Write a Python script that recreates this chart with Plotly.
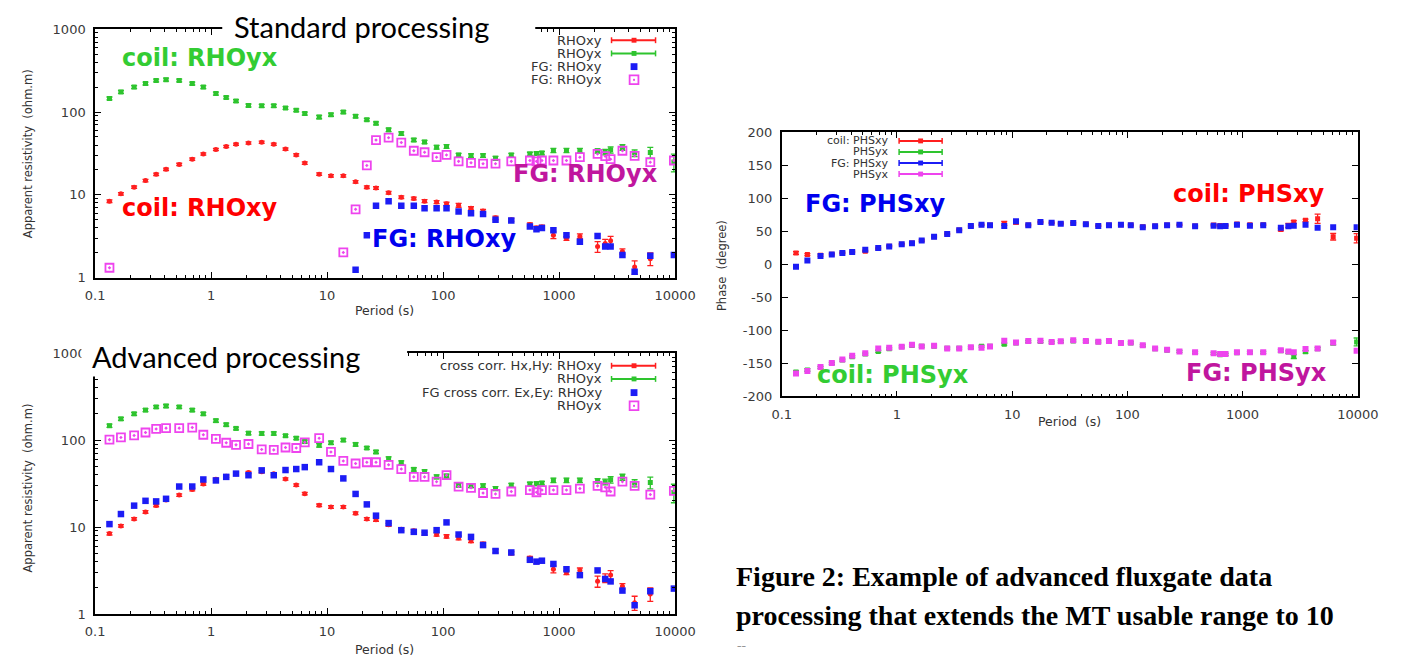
import plotly.graph_objects as go

W, H = 1416, 666

# ---------------- data ----------------
period = [0.133, 0.167, 0.217, 0.272, 0.336, 0.409, 0.531, 0.688, 0.857, 1.1,
          1.35, 1.64, 2.1, 2.73, 3.47, 4.38, 5.42, 6.42, 8.54, 10.8,
          13.8, 17.6, 22, 26.4, 33.9, 43.6, 55.9, 69.2, 87.9, 107,
          136, 174, 221, 283, 387, 560, 638, 711, 893, 1157,
          1510, 2146, 2496, 2780, 3515, 4477, 6110, 9760]

# coil apparent resistivity (used in both resistivity panels)
rho_xy_coil = [8.4, 10.3, 12.4, 14.9, 17.7, 20.4, 23.3, 27, 31.2, 35.4,
               38.4, 40.9, 42.4, 43.2, 40.9, 35.7, 30.4, 24.2, 17.8, 17,
               17, 14.4, 12.4, 12.1, 10.6, 9.4, 9.05, 8.4, 8.2, 7.8,
               7.5, 6.9, 6.4, 5.3, 5.0, 4.4, 4.0, 4.1, 3.27, 2.98,
               3.18, 2.38, 2.6, 2.8, 2.08, 1.35, 1.7, None]
rho_xy_coil_err = [0.3, 0.35, 0.4, 0.5, 0.6, 0.7, 0.8, 0.9, 1.0, 1.1,
                   1.2, 1.3, 1.3, 1.3, 1.3, 1.1, 1.0, 0.8, 0.6, 0.6,
                   0.6, 0.5, 0.45, 0.45, 0.4, 0.35, 0.35, 0.35, 0.35, 0.35,
                   0.4, 0.3, 0.3, 0.25, 0.2, 0.2, 0.2, 0.2, 0.3, 0.15,
                   0.2, 0.35, 0.3, 0.35, 0.15, 0.25, 0.3, 0]
rho_yx_coil = [146, 175, 200, 221, 240, 246, 240, 221, 200, 167,
               150, 136, 120, 119, 119, 112, 105, 96, 87, 93,
               100, 89, 81, 73, 61, 55, 46, 43.5, 37.7, 38.5,
               30.3, 29.8, 29.8, 27.7, 30.3, 31.2, 31.5, 32, 34.4, 34.4,
               34.4, 34, 33, 35, 37.4, 32, 32.5, 25]
rho_yx_coil_err = [6, 7, 8, 9, 9, 10, 9, 9, 8, 7,
                   6, 5, 5, 5, 5, 4, 4, 4, 4, 4,
                   4, 4, 3, 3, 3, 2.5, 2, 2, 2, 2,
                   1.5, 1.5, 1.5, 1.5, 1.5, 1.5, 1.5, 1.5, 2, 2,
                   2, 2, 2.5, 3, 3, 3, 5, 6]

# fluxgate, standard processing
fg_rho_xy_std = [None] * 21 + [1.25, 3.27, 7.4, 8.4, 7.4, 7.4, 6.9, 6.9, 6.9,
                               6.3, 6.0, 5.87, 5.0, 4.9, 4.17, 3.84, 4.0, 3.74, 3.27,
                               2.72, 3.2, 2.38, 2.38, 1.88, 1.18, 1.85, 1.88]
fg_rho_yx_std = [1.32] + [None] * 19 + [2.02, 6.7, 22.7, 45.9, 49, 42.8, 34.1, 32.7, 28.5, 30.4,
                                        25.4, 24.4, 23.8, 23.8, 25.4, 26, 25.4, 26, 26, 26,
                                        28.5, 31.2, 29.3, 27, 34.1, 29.6, 24.8, 26]

# fluxgate, advanced (cross-correlation) processing
fg_rho_xy_adv = [10.8, 14.1, 17.6, 20, 19.7, 21.1, 29.2, 29.2, 35.2, 34.3,
                 37.7, 41.1, 39.4, 44.8, 39.4, 45.2, 46.4, 48.8, 55.5, 46.4,
                 36.2, 24, 18.2, 13.5, 11.1, 9.2, 8.8, 8.6, 9.2, 11.3,
                 8.2, 7.7, 6.2, 5.3, 5.1, 4.2, 4.0, 4.1, 3.76, 3.27,
                 2.8, 3.17, 2.53, 2.37, 1.86, 1.26, 1.83, 1.96]
fg_rho_yx_adv = [101, 107, 113, 122, 134, 137, 137, 139, 115, 103,
                 93, 88, 90, 78, 77, 82, 81, 94, 105, 73,
                 57.5, 53.7, 55.5, 55.5, 51.9, 46.4, 37.7, 37.7, 33.2, 39.4,
                 29.2, 28.2, 24.6, 24, 25.6, 26.6, 25.1, 26.6, 26.6, 26.6,
                 27.7, 29.7, 28.6, 25.6, 33.2, 29.7, 23.6, 26.1]

# phases (degree)
phs_xy_coil = [17.2, 14.8, 14, 15.5, 17.5, 19, 20, 24, 27.5, 30.5,
               32.5, 36, 42, 46, 52, 58, 60, 59.5, 62, 64,
               59.5, 64, 63, 62, 62.5, 61, 58.5, 59.5, 60, 59.5,
               57, 58, 59.5, 60, 58, 59.5, 59, 59, 61, 60,
               60, 52.8, 59, 64.2, 66.7, 69.1, 41.9, 39.5]
phs_xy_coil_err = [2, 1.5, 1.5, 1, 1, 1, 1, 1, 1, 1,
                   1, 1, 1, 1, 1, 1, 1, 1, 3, 3,
                   1, 1, 1, 1, 1, 1, 1, 1, 1, 1,
                   1, 1, 1, 1, 1, 1, 1, 1, 1, 1,
                   1, 2, 3, 2, 2, 7, 5, 7]
phs_yx_coil = [-163, -160, -156, -150, -145, -140, -136, -132, -128, -125,
               -123, -124, -124, -127, -127, -126, -124, -124, -121, -119,
               -117, -117, -118, -117, -116, -116.5, -117.5, -117, -119, -119,
               -123, -128, -130, -132, -133.5, -135, -137, -136.5, -134, -133.5,
               -133.5, -131, -133, -139.7, -132.6, -128, -119, -117.6]
phs_yx_coil_err = [2, 2, 1.5, 1.5, 1.5, 1.5, 1.5, 1.5, 1.5, 1.5,
                   1.5, 1.5, 1.5, 1.5, 1.5, 1.5, 1.5, 1.5, 1.5, 1.5,
                   1.5, 1.5, 1.5, 1.5, 1.5, 1.5, 1.5, 1.5, 1.5, 1.5,
                   1.5, 1.5, 1.5, 1.5, 1.5, 1.5, 1.5, 1.5, 1.5, 1.5,
                   1.5, 2, 2, 3, 2, 2, 3, 6]
phs_xy_fg = [-3.5, 5.9, 12.8, 14.8, 17.2, 18.7, 22.2, 24.7, 27.1, 30.5,
             32, 36, 42, 45.9, 51.8, 58.2, 60.2, 59.2, 58.2, 65.2,
             59.2, 64.2, 63.2, 61.7, 62.7, 60.7, 58.2, 59.2, 60.2, 59.2,
             56.4, 57.9, 59.2, 60.2, 57.9, 58.7, 57.9, 58.2, 60.2, 58.7,
             59.2, 55.4, 57.9, 58.7, 60.2, 55.4, 56.4, 56.4]
phs_yx_fg = [-165.5, -161.5, -155.6, -149.6, -144.3, -138.4, -134.8, -127.4, -126.5, -125,
             -122, -124.4, -123.5, -127.4, -127.4, -125.5, -126.5, -124.4, -115.6, -118.5,
             -116.1, -115.6, -117.6, -116.6, -115.1, -116.1, -117.1, -116.1, -119.1, -118.5,
             -122.5, -127.4, -129.5, -131.9, -133.3, -134.8, -135.8, -135.8, -133.3, -133.3,
             -133.3, -130, -131.9, -133.3, -128.4, -127.4, -118.5, -131]

x_tickvals = [0.1, 1, 10, 100, 1000, 10000]
x_ticktext = ["0.1", "1", "10", "100", "1000", "10000"]
rho_tickvals = [1, 10, 100, 1000]
rho_ticktext = ["1", "10", "100", "1000"]
phs_tickvals = [-200, -150, -100, -50, 0, 50, 100, 150, 200]
phs_ticktext = ["-200", "-150", "-100", "-50", "0", "50", "100", "150", "200"]

# ---------------- styling ----------------
RED = "#ff1f1f"
GREEN = "#2ec42e"
BLUE = "#1c1cf5"
MAGENTA = "#ee44ee"
LBL_GREEN = "#33cc33"
LBL_RED = "#ff0000"
LBL_BLUE = "#0000ee"
LBL_MAG = "#c0169e"


def px(x):
    return x / W


def py(y):
    return 1 - y / H


def err(arr, color):
    return dict(type="data", array=arr, symmetric=True, width=3,
                thickness=1.3, color=color)


fig = go.Figure()


def rho_panel(xa, ya, fg_xy, fg_yx):
    fig.add_trace(go.Scatter(x=period, y=rho_xy_coil, mode="markers", xaxis=xa, yaxis=ya,
                             marker=dict(symbol="circle", size=5, color=RED),
                             error_y=err(rho_xy_coil_err, RED), showlegend=False))
    fig.add_trace(go.Scatter(x=period, y=rho_yx_coil, mode="markers", xaxis=xa, yaxis=ya,
                             marker=dict(symbol="square", size=5, color=GREEN),
                             error_y=err(rho_yx_coil_err, GREEN), showlegend=False))
    fig.add_trace(go.Scatter(x=period, y=fg_xy, mode="markers", xaxis=xa, yaxis=ya,
                             marker=dict(symbol="square", size=6.5, color=BLUE),
                             showlegend=False))
    fig.add_trace(go.Scatter(x=period, y=fg_yx, mode="markers", xaxis=xa, yaxis=ya,
                             marker=dict(symbol="square-open-dot", size=8, color=MAGENTA,
                                         line=dict(width=1.8, color=MAGENTA)),
                             showlegend=False))


rho_panel("x", "y", fg_rho_xy_std, fg_rho_yx_std)
rho_panel("x2", "y2", fg_rho_xy_adv, fg_rho_yx_adv)

# phase panel
fig.add_trace(go.Scatter(x=period, y=phs_xy_coil, mode="markers", xaxis="x3", yaxis="y3",
                         marker=dict(symbol="square", size=5, color=RED),
                         error_y=err(phs_xy_coil_err, RED), showlegend=False))
fig.add_trace(go.Scatter(x=period, y=phs_yx_coil, mode="markers", xaxis="x3", yaxis="y3",
                         marker=dict(symbol="square", size=5, color=GREEN),
                         error_y=err(phs_yx_coil_err, GREEN), showlegend=False))
fig.add_trace(go.Scatter(x=period, y=phs_xy_fg, mode="markers", xaxis="x3", yaxis="y3",
                         marker=dict(symbol="square", size=6, color=BLUE),
                         showlegend=False))
fig.add_trace(go.Scatter(x=period, y=phs_yx_fg, mode="markers", xaxis="x3", yaxis="y3",
                         marker=dict(symbol="square", size=6, color=MAGENTA),
                         showlegend=False))

# ---------------- axes ----------------
tickfont = dict(family="DejaVu Sans", size=13, color="#3a3a3a")
log_minor_x = [m * 10 ** k for k in range(-1, 4) for m in range(2, 10)]
log_minor_y = [m * 10 ** k for k in range(0, 3) for m in range(2, 10)]


def base_axis(**kw):
    d = dict(showline=True, mirror="allticks", linecolor="black", linewidth=1.6,
             ticks="inside", ticklen=6, tickwidth=1, tickcolor="black",
             showgrid=False, zeroline=False, tickfont=tickfont,
             ticklabelstandoff=5, fixedrange=True)
    d.update(kw)
    return d


def xlog(domain, anchor):
    return base_axis(domain=domain, anchor=anchor, type="log", range=[-1, 4],
                     tickmode="array", tickvals=x_tickvals, ticktext=x_ticktext,
                     minor=dict(tickmode="array", tickvals=log_minor_x, ticks="inside",
                                ticklen=3, tickcolor="black", showgrid=False))


def ylog(domain, anchor):
    return base_axis(domain=domain, anchor=anchor, type="log", range=[0, 3],
                     tickmode="array", tickvals=rho_tickvals, ticktext=rho_ticktext,
                     minor=dict(tickmode="array", tickvals=log_minor_y, ticks="inside",
                                ticklen=3, tickcolor="black", showgrid=False))


top_x = [px(87), px(680)]
top_y = [py(277), py(22.7)]
bot_x = [px(87), px(680)]
bot_y = [py(621), py(354)]
ph_x = [px(789), px(1378)]
ph_y = [py(398.3), py(128.3)]

fig.update_layout(
    width=W, height=H,
    margin=dict(l=0, r=0, t=0, b=0),
    paper_bgcolor="white", plot_bgcolor="white",
    xaxis=xlog(top_x, "y"), yaxis=ylog(top_y, "x"),
    xaxis2=xlog(bot_x, "y2"), yaxis2=ylog(bot_y, "x2"),
    xaxis3=xlog(ph_x, "y3"),
    yaxis3=base_axis(domain=ph_y, anchor="x3", range=[-200, 200], tickmode="array",
                     tickvals=phs_tickvals, ticktext=phs_ticktext),
    showlegend=False,
)

# ---------------- annotations & decorations ----------------
shapes = []
ann = []


def text(x, y, t, size=12, color="#333", family="DejaVu Sans", bold=False,
         xanchor="center", yanchor="middle", angle=0):
    if bold:
        t = "<b>" + t + "</b>"
    ann.append(dict(x=px(x), y=py(y), xref="paper", yref="paper", text=t,
                    showarrow=False, xanchor=xanchor, yanchor=yanchor, textangle=angle,
                    font=dict(family=family, size=size, color=color)))


def rect(x0, y0, x1, y1, fill, line_color=None, lw=0):
    shapes.append(dict(type="rect", xref="paper", yref="paper", x0=px(x0), x1=px(x1),
                       y0=py(y1), y1=py(y0), fillcolor=fill, layer="above",
                       line=dict(color=line_color or fill, width=lw)))


def seg(x0, y0, x1, y1, color, lw):
    shapes.append(dict(type="line", xref="paper", yref="paper", x0=px(x0), x1=px(x1),
                       y0=py(y0), y1=py(y1), layer="above", line=dict(color=color, width=lw)))


def legend_err_line(xr, y, label, color, x0, x1, xm, size=13):
    text(xr, y, label, size=size, color="#333", xanchor="right")
    seg(x0, y, x1, y, color, 2)
    seg(x0, y - 3, x0, y + 3, color, 1.5)
    seg(x1, y - 3, x1, y + 3, color, 1.5)
    rect(xm - 2.5, y - 2.5, xm + 2.5, y + 2.5, color)


def legend_marker(xr, y, label, color, xm, open_=False, size=13):
    text(xr, y, label, size=size, color="#333", xanchor="right")
    if open_:
        rect(xm - 4.5, y - 4.5, xm + 4.5, y + 4.5, "white", color, 1.8)
        rect(xm - 1, y - 1, xm + 1, y + 1, color)
    else:
        rect(xm - 3.5, y - 3.5, xm + 3.5, y + 3.5, color)


# white boxes behind the panel headings (they cut the frame)
rect(217, 0, 537, 38, "white")
rect(73, 336, 406, 378, "white")
text(359, 20, "Standard processing", size=29, color="black", family="Lato")
text(221, 358, "Advanced processing", size=29, color="black", family="Lato")

# legends
legend_err_line(607, 34, "RHOxy", RED, 615, 660, 638)
legend_err_line(607, 47.5, "RHOyx", GREEN, 615, 660, 638)
legend_marker(607, 61, "FG: RHOxy", BLUE, 638)
legend_marker(607, 74.5, "FG: RHOyx", MAGENTA, 638, open_=True)

legend_err_line(607, 367, "cross corr. Hx,Hy: RHOxy", RED, 615, 660, 638)
legend_err_line(607, 380.5, "RHOyx", GREEN, 615, 660, 638)
legend_marker(607, 394.5, "FG cross corr. Ex,Ey: RHOxy", BLUE, 638)
legend_marker(607, 408, "RHOyx", MAGENTA, 638, open_=True)

legend_err_line(900, 137, "coil: PHSxy", RED, 909, 953, 931, size=11)
legend_err_line(900, 148.3, "PHSyx", GREEN, 909, 953, 931, size=11)
legend_err_line(900, 159.6, "FG: PHSxy", BLUE, 909, 953, 931, size=11)
legend_err_line(900, 170.9, "PHSyx", MAGENTA, 909, 953, 931, size=11)

# axis titles
text(18, 150, "Apparent resistivity  (ohm.m)", size=11.5, angle=-90)
text(18, 492, "Apparent resistivity  (ohm.m)", size=11.5, angle=-90)
text(728, 265, "Phase  (degree)", size=11.5, angle=-90)
text(383, 310, "Period (s)", size=12.5)
text(383, 657, "Period (s)", size=12.5)
text(1083, 424, "Period  (s)", size=12.5)

# coloured curve labels
text(194, 52, "coil: RHOyx", size=24, color=LBL_GREEN, bold=True)
text(194, 206, "coil: RHOxy", size=24, color=LBL_RED, bold=True)
text(588, 171, "FG: RHOyx", size=24, color=LBL_MAG, bold=True)
text(444, 237, "FG: RHOxy", size=24, color=LBL_BLUE, bold=True)
text(884, 202, "FG: PHSxy", size=24, color=LBL_BLUE, bold=True)
text(1267, 191, "coil: PHSxy", size=24, color=LBL_RED, bold=True)
text(903, 376, "coil: PHSyx", size=24, color=LBL_GREEN, bold=True)
text(1274, 374, "FG: PHSyx", size=24, color=LBL_MAG, bold=True)

# caption
text(740, 583, "Figure 2: Example of advanced fluxgate data", size=28, color="black",
     family="Liberation Serif", bold=True, xanchor="left")
text(740, 623, "processing that extends the MT usable range to 10", size=28, color="black",
     family="Liberation Serif", bold=True, xanchor="left")
text(741, 654, "––", size=9, color="#666", xanchor="left")

fig.update_layout(shapes=shapes, annotations=ann)
fig.write_html("out.html", config={"displayModeBar": False},
               post_script="document.body.style.margin='0px';")
